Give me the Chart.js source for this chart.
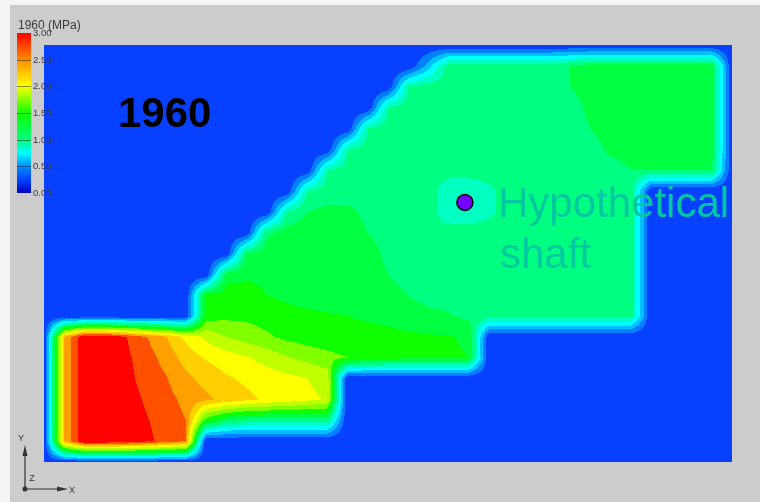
<!DOCTYPE html>
<html>
<head>
<meta charset="utf-8">
<title>1960 (MPa)</title>
<script src="https://cdn.jsdelivr.net/npm/chart.js@4.4.1/dist/chart.umd.min.js"></script>
<style>
  html, body { margin: 0; padding: 0; background: #cccccc; }
  canvas { display: block; }
</style>
</head>
<body>
<canvas id="stressChart" width="760" height="502"></canvas>
<script>
// Stress in 1960 (MPa) at grid nodes: 35 columns x 21 rows, row 0 at the top
const row00 = [0,0,0,0,0,0,0,0,0,0,0,0,0,0,0,0,0,0,0,0,0,0,0,0,0,0,0,0,0,0,0,0,0,0,0];
const row01 = [0,0,0,0,0,0,0,0,0,0,0,0,0,0,0,0,0,0,0,0.5,1.1,1.1,1.1,1.1,1.1,1.1,1.2,1.3,1.3,1.3,1.3,1.3,1.3,1.3,0];
const row02 = [0,0,0,0,0,0,0,0,0,0,0,0,0,0,0,0,0,0,1.0,1.1,1.1,1.1,1.1,1.1,1.1,1.1,1.2,1.3,1.3,1.3,1.3,1.3,1.3,1.3,0];
const row03 = [0,0,0,0,0,0,0,0,0,0,0,0,0,0,0,0,0,1.0,1.1,1.1,1.1,1.1,1.1,1.1,1.1,1.1,1.1,1.25,1.3,1.3,1.3,1.3,1.3,1.3,0];
const row04 = [0,0,0,0,0,0,0,0,0,0,0,0,0,0,0,0,1.0,1.1,1.1,1.1,1.1,1.1,1.1,1.1,1.1,1.1,1.1,1.2,1.3,1.3,1.3,1.3,1.3,1.3,0];
const row05 = [0,0,0,0,0,0,0,0,0,0,0,0,0,0,0,1.0,1.1,1.1,1.1,1.1,1.1,1.1,1.1,1.1,1.1,1.1,1.1,1.1,1.25,1.3,1.3,1.3,1.3,1.3,0];
const row06 = [0,0,0,0,0,0,0,0,0,0,0,0,0,0,1.0,1.1,1.1,1.1,1.1,1.1,1.1,1.1,1.1,1.1,1.1,1.1,1.1,1.1,1.1,1.2,1.2,1.2,1.2,1.2,0];
const row07 = [0,0,0,0,0,0,0,0,0,0,0,0,0,1.0,1.1,1.1,1.1,1.1,1.1,1.1,0.85,0.85,0.95,1.1,1.1,1.1,1.1,1.1,1.1,1.1,0,0,0,0,0];
const row08 = [0,0,0,0,0,0,0,0,0,0,0,0,1.0,1.2,1.25,1.25,1.15,1.1,1.1,1.1,0.85,0.85,0.95,1.1,1.1,1.1,1.1,1.1,1.1,1.1,0,0,0,0,0];
const row09 = [0,0,0,0,0,0,0,0,0,0,0,1.15,1.3,1.3,1.3,1.3,1.2,1.1,1.1,1.1,1.1,1.1,1.1,1.1,1.1,1.1,1.1,1.1,1.1,1.1,0,0,0,0,0];
const row10 = [0,0,0,0,0,0,0,0,0,0,1.2,1.3,1.3,1.3,1.3,1.3,1.3,1.15,1.1,1.1,1.1,1.1,1.1,1.1,1.1,1.1,1.1,1.1,1.1,1.1,0,0,0,0,0];
const row11 = [0,0,0,0,0,0,0,0,0,1.3,1.35,1.35,1.3,1.3,1.3,1.3,1.3,1.2,1.1,1.1,1.1,1.1,1.1,1.1,1.1,1.1,1.1,1.1,1.1,1.1,0,0,0,0,0];
const row12 = [0,0,0,0,0,0,0,0,1.45,1.5,1.5,1.4,1.35,1.3,1.3,1.3,1.3,1.3,1.2,1.1,1.1,1.1,1.1,1.1,1.1,1.1,1.1,1.1,1.1,1.1,0,0,0,0,0];
const row13 = [0,0,0,0,0,0,0,0,1.5,1.55,1.55,1.52,1.48,1.45,1.42,1.4,1.38,1.36,1.32,1.28,1.22,1.15,1.1,1.1,1.1,1.1,1.1,1.1,1.1,1.1,0,0,0,0,0];
const row14 = [0,2.4,3.0,3.0,2.82,2.62,2.42,2.15,1.95,1.8,1.72,1.63,1.55,1.5,1.47,1.45,1.45,1.44,1.43,1.42,1.41,1.38,0,0,0,0,0,0,0,0,0,0,0,0,0];
const row15 = [0,2.4,3.0,3.0,2.85,2.7,2.53,2.32,2.18,2.1,2.02,1.92,1.82,1.74,1.67,1.6,1.52,1.47,1.44,1.43,1.42,1.4,0,0,0,0,0,0,0,0,0,0,0,0,0];
const row16 = [0,2.4,3.0,3.0,2.87,2.73,2.62,2.45,2.33,2.23,2.16,2.11,2.06,2.0,1.92,0,0,0,0,0,0,0,0,0,0,0,0,0,0,0,0,0,0,0,0];
const row17 = [0,2.4,3.0,3.0,2.9,2.78,2.67,2.55,2.44,2.34,2.25,2.17,2.11,2.05,1.98,0,0,0,0,0,0,0,0,0,0,0,0,0,0,0,0,0,0,0,0];
const row18 = [0,2.4,3.0,3.0,2.92,2.82,2.72,2.6,1.5,1.2,1.1,1.1,1.1,1.1,1.1,0,0,0,0,0,0,0,0,0,0,0,0,0,0,0,0,0,0,0,0];
const row19 = [0,2.4,3.0,3.0,2.95,2.85,2.74,2.6,0,0,0,0,0,0,0,0,0,0,0,0,0,0,0,0,0,0,0,0,0,0,0,0,0,0,0];
const row20 = [0,0,0,0,0,0,0,0,0,0,0,0,0,0,0,0,0,0,0,0,0,0,0,0,0,0,0,0,0,0,0,0,0,0,0];
const stressRows = [row00, row01, row02, row03, row04, row05, row06, row07, row08, row09, row10,
                    row11, row12, row13, row14, row15, row16, row17, row18, row19, row20];

const legendTicks = [0, 0.5, 1.0, 1.5, 2.0, 2.5, 3.0];
const shaftPoint = [{ x: 20.8, y: 7.55 }];

// contour bands, 0.2 MPa each
const bandStep = 0.2;
const bandColours = ['#0840ff', '#0080ff', '#00c0ff', '#00ffff', '#00ffc0', '#00ff80', '#00ff40',
                     '#10ff00', '#80ff00', '#c0ff00', '#ffff00', '#ffd000', '#ffa000', '#ff5000', '#ff0000'];

const hexToRgb = h => [1, 3, 5].map(k => parseInt(h.substr(k, 2), 16));

const contourFill = {
    id: 'contourFill',
    beforeDatasetsDraw(chart) {
        const { ctx, chartArea: a, scales } = chart;
        const w = Math.round(a.right - a.left), h = Math.round(a.bottom - a.top);
        const off = document.createElement('canvas');
        off.width = w; off.height = h;
        const octx = off.getContext('2d');
        const img = octx.createImageData(w, h);
        const rgb = bandColours.map(hexToRgb);
        const nx = stressRows[0].length - 1, ny = stressRows.length - 1;
        const gxs = [];
        for (let px = 0; px < w; px++) gxs.push(scales.x.getValueForPixel(a.left + px + 0.5));
        for (let py = 0; py < h; py++) {
            const gy = scales.y.getValueForPixel(a.top + py + 0.5);
            const j = Math.min(ny - 1, Math.max(0, Math.floor(gy)));
            const ty = gy - j;
            const r0 = stressRows[j], r1 = stressRows[j + 1];
            for (let px = 0; px < w; px++) {
                const gx = gxs[px];
                const i = Math.min(nx - 1, Math.max(0, Math.floor(gx)));
                const tx = gx - i;
                const v = (r0[i] * (1 - tx) + r0[i + 1] * tx) * (1 - ty) + (r1[i] * (1 - tx) + r1[i + 1] * tx) * ty;
                const b = Math.min(rgb.length - 1, Math.max(0, Math.floor(v / bandStep + 1e-9)));
                const k = (py * w + px) * 4;
                img.data[k] = rgb[b][0]; img.data[k + 1] = rgb[b][1]; img.data[k + 2] = rgb[b][2]; img.data[k + 3] = 255;
            }
        }
        octx.putImageData(img, 0, 0);
        ctx.drawImage(off, a.left, a.top);
    }
};

const decorations = {
    id: 'decorations',
    beforeDraw(chart) {
        const { ctx, width, height } = chart;
        ctx.save();
        ctx.fillStyle = '#cccccc';
        ctx.fillRect(0, 0, width, height);
        ctx.fillStyle = '#f4f4f4';
        ctx.fillRect(0, 0, width, 5);
        ctx.fillRect(0, 0, 10, height);
        ctx.restore();
    },
    afterDraw(chart) {
        const { ctx } = chart;
        ctx.save();

        // colour bar
        const barX = 17, barW = 14, barTop = 33, barBot = 193;
        const yOf = v => barBot - (v / 3) * (barBot - barTop);
        const g = ctx.createLinearGradient(0, barBot, 0, barTop);
        g.addColorStop(0, '#0000c0');
        g.addColorStop(0.08, '#0040ff');
        g.addColorStop(0.17, '#0090ff');
        g.addColorStop(0.25, '#00ffff');
        g.addColorStop(0.33, '#00ff80');
        g.addColorStop(0.5, '#10ff00');
        g.addColorStop(0.67, '#ffff00');
        g.addColorStop(0.83, '#ff9000');
        g.addColorStop(1, '#ff0000');
        ctx.fillStyle = g;
        ctx.fillRect(barX, barTop, barW, barBot - barTop);
        ctx.strokeStyle = 'rgba(40,40,40,0.55)';
        ctx.lineWidth = 1;
        ctx.font = '9.5px "Liberation Sans Narrow", "Arial Narrow", "Liberation Sans", sans-serif';
        ctx.fillStyle = '#3a3a3a';
        ctx.textBaseline = 'middle';
        legendTicks.forEach(t => {
            const y = Math.round(yOf(t)) + 0.5;
            if (t > 0 && t < 3) {
                ctx.beginPath();
                ctx.moveTo(barX, y);
                ctx.lineTo(barX + barW, y);
                ctx.stroke();
            }
            ctx.fillText(t.toFixed(2), barX + barW + 2, y);
        });
        ctx.font = '12px "Liberation Sans Narrow", "Arial Narrow", "Liberation Sans", sans-serif';
        ctx.textBaseline = 'alphabetic';
        ctx.fillText('1960 (MPa)', 18, 29);

        // year
        ctx.fillStyle = '#000000';
        ctx.font = 'bold 42px "Liberation Sans", Arial, sans-serif';
        ctx.fillText('1960', 118, 127);

        // shaft label
        ctx.fillStyle = '#00c8a0';
        ctx.font = '42px "Liberation Sans", Arial, sans-serif';
        ctx.fillText('Hypothetical', 498, 217);
        ctx.fillText('shaft', 500, 268);

        // axis triad
        ctx.strokeStyle = '#333333';
        ctx.fillStyle = '#333333';
        ctx.lineWidth = 1.2;
        ctx.beginPath();
        ctx.moveTo(25, 489); ctx.lineTo(25, 452);
        ctx.moveTo(25, 489); ctx.lineTo(60, 489);
        ctx.stroke();
        ctx.beginPath();
        ctx.moveTo(25, 445); ctx.lineTo(22.5, 456); ctx.lineTo(27.5, 456); ctx.closePath();
        ctx.moveTo(68, 489); ctx.lineTo(57, 486.5); ctx.lineTo(57, 491.5); ctx.closePath();
        ctx.fill();
        ctx.beginPath();
        ctx.arc(25, 489, 2.5, 0, Math.PI * 2);
        ctx.fill();
        ctx.font = '9px "Liberation Sans", Arial, sans-serif';
        ctx.textAlign = 'center';
        ctx.textBaseline = 'middle';
        ctx.fillText('Y', 21, 439);
        ctx.fillText('Z', 32, 479);
        ctx.fillText('X', 72, 491);
        ctx.restore();
    }
};

new Chart(document.getElementById('stressChart'), {
    type: 'scatter',
    data: {
        datasets: [{
            label: 'Hypothetical shaft',
            data: shaftPoint,
            pointRadius: 8,
            pointHoverRadius: 8,
            pointBackgroundColor: '#7300ff',
            pointBorderColor: '#000000',
            pointBorderWidth: 1.5
        }]
    },
    options: {
        responsive: false,
        animation: false,
        devicePixelRatio: 1,
        layout: { padding: { left: 44, right: 28, top: 45, bottom: 40 } },
        scales: {
            x: { type: 'linear', min: 0, max: 34, display: false },
            y: { type: 'linear', min: 0, max: 20, reverse: true, display: false }
        },
        plugins: {
            legend: { display: false },
            tooltip: { enabled: false }
        }
    },
    plugins: [decorations, contourFill]
});
</script>
</body>
</html>
